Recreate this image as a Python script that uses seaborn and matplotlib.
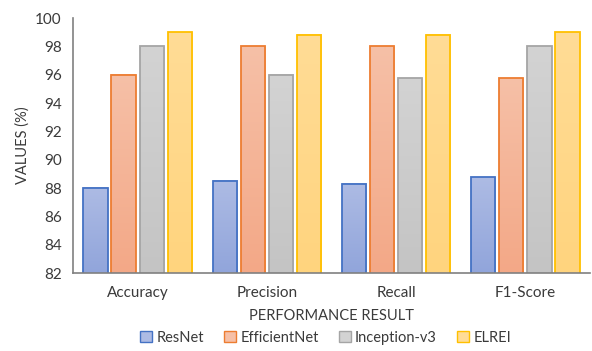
import numpy as np
import pandas as pd
import matplotlib
matplotlib.use("Agg")
import matplotlib.pyplot as plt
from matplotlib.colors import LinearSegmentedColormap
from matplotlib.patches import Rectangle
import seaborn as sns

metrics = ["Accuracy", "Precision", "Recall", "F1-Score"]
models = ["ResNet", "EfficientNet", "Inception-v3", "ELREI"]
resnet = [88.0, 88.5, 88.3, 88.75]
efficientnet = [96.0, 98.0, 98.0, 95.75]
inception = [98.0, 96.0, 95.75, 98.0]
elrei = [99.0, 98.8, 98.8, 99.0]
y_ticks = [82, 84, 86, 88, 90, 92, 94, 96, 98, 100]
y_min, y_max = 82, 100

edge_colors = ["#4472c4", "#ed7d31", "#a5a5a5", "#ffc000"]
top_colors = ["#adbbe4", "#f6c0a7", "#d3d3d3", "#ffdc96"]
bottom_colors = ["#91a5db", "#f3a887", "#c4c4c4", "#ffd47e"]

df = pd.DataFrame({
    "metric": metrics * 4,
    "model": np.repeat(models, len(metrics)),
    "value": resnet + efficientnet + inception + elrei,
})

sns.set_theme(style="white")
plt.rcParams["font.family"] = ["Lato", "DejaVu Sans"]
text_color = "#3a3a3a"

fig = plt.figure(figsize=(5.92, 3.51), dpi=100)
ax = fig.add_axes([0.1233, 0.2222, 0.8733, 0.7265])

sns.barplot(data=df, x="metric", y="value", hue="model", order=metrics,
            hue_order=models, palette=edge_colors, width=0.87, gap=0.14,
            linewidth=1.3, ax=ax, legend=False)

# vertical gradient fill inside every bar, with the outline on top
for i, container in enumerate(ax.containers):
    cmap = LinearSegmentedColormap.from_list(
        f"g{i}", [bottom_colors[i], top_colors[i]])
    for bar in container:
        x0 = bar.get_x()
        w, h = bar.get_width(), bar.get_height()
        bar.set_facecolor("none")
        bar.set_edgecolor(edge_colors[i])
        bar.set_zorder(3)
        grad = np.linspace(0, 1, 256).reshape(-1, 1)
        ax.imshow(grad, cmap=cmap, origin="lower", aspect="auto",
                  extent=(x0, x0 + w, y_min, bar.get_y() + h), zorder=2,
                  interpolation="bilinear")

ax.set_ylim(y_min, y_max)
ax.set_xlim(-0.5, 3.5)
ax.set_yticks(y_ticks)
ax.set_yticklabels([str(t) for t in y_ticks])

for s in ["top", "right"]:
    ax.spines[s].set_visible(False)
for s in ["left", "bottom"]:
    ax.spines[s].set_color("#808080")
    ax.spines[s].set_linewidth(1.2)
ax.spines["bottom"].set_zorder(4)

ax.tick_params(axis="both", length=0, labelsize=11, colors=text_color)
ax.tick_params(axis="x", pad=9)
ax.tick_params(axis="y", pad=8)
ax.set_xlabel("PERFORMANCE RESULT", fontsize=10.5, color=text_color, labelpad=7)
ax.set_ylabel("VALUES (%)", fontsize=10.5, color=text_color, labelpad=4)

handles = [Rectangle((0, 0), 1, 1, facecolor=top_colors[i],
                     edgecolor=edge_colors[i], linewidth=1.0)
           for i in range(len(models))]
fig.legend(handles, models, loc="lower center", ncol=4, frameon=False,
           bbox_to_anchor=(0.55, -0.02), fontsize=10.5, handlelength=0.8,
           handleheight=0.8, handletextpad=0.3, columnspacing=1.4,
           labelcolor=text_color)

fig.savefig("out.png", dpi=100, facecolor="white")
